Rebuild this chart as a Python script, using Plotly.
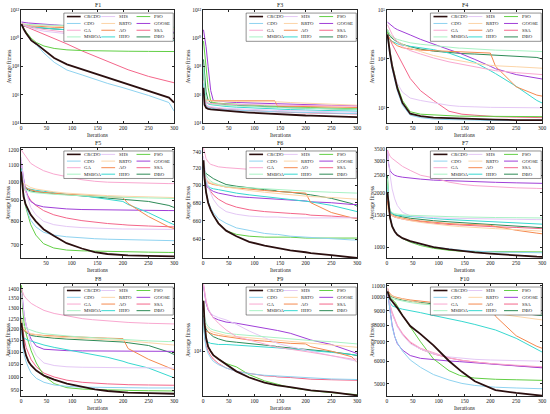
import plotly.graph_objects as go

ITER = [1, 3, 6, 10, 15, 20, 30, 45, 65, 90, 120, 140, 145, 170, 200, 210, 250, 290, 300]

ALGOS = ["CRCDO", "CDO", "GA", "MSBOA", "SHS", "RRTO", "AO", "HHO", "PSO", "GOOSE", "SSA", "DBO"]
COLORS = {
    "CRCDO": "#2b0f0f", "CDO": "#8fd3f0", "GA": "#f9a8d0", "MSBOA": "#a8f2c4",
    "SHS": "#e4c8f5", "RRTO": "#fcd5a8", "AO": "#f5894f", "HHO": "#38d8d0",
    "PSO": "#62cf45", "GOOSE": "#a03fd8", "SSA": "#f4668a", "DBO": "#2e8b57",
}
LEGEND_COLS = [["CRCDO", "CDO", "GA", "MSBOA"],
               ["SHS", "RRTO", "AO", "HHO"],
               ["PSO", "GOOSE", "SSA", "DBO"]]

# F1, F3, F4, F9 are read as log10(average fitness) off the 10^n axes
F1_LOG = {
    "CRCDO": [11.0, 10.8, 10.6, 10.35, 10.05, 9.85, 9.6, 9.15, 8.6, 8.15, 7.8, 7.55, 7.48, 7.2, 6.85, 6.72, 6.25, 5.8, 5.45],
    "CDO": [11.0, 10.8, 10.6, 10.35, 10.05, 9.83, 9.55, 8.95, 8.3, 7.75, 7.4, 7.15, 7.1, 6.8, 6.5, 6.4, 5.95, 5.45, 4.85],
    "GA": [11.05, 11.0, 10.95, 10.9, 10.85, 10.8, 10.72, 10.62, 10.52, 10.42, 10.32, 10.27, 10.26, 10.2, 10.15, 10.13, 10.08, 10.03, 10.02],
    "MSBOA": [11.02, 11.0, 10.99, 10.98, 10.97, 10.96, 10.95, 10.94, 10.92, 10.9, 10.88, 10.87, 10.86, 10.85, 10.83, 10.83, 10.81, 10.79, 10.78],
    "SHS": [11.0, 10.95, 10.9, 10.85, 10.78, 10.72, 10.62, 10.5, 10.4, 10.32, 10.25, 10.22, 10.21, 10.18, 10.15, 10.14, 10.1, 10.06, 10.05],
    "RRTO": [11.04, 11.02, 11.0, 10.98, 10.95, 10.94, 10.91, 10.88, 10.85, 10.81, 10.78, 10.76, 10.75, 10.73, 10.72, 10.71, 10.69, 10.66, 10.65],
    "AO": [11.0, 10.98, 10.95, 10.93, 10.9, 10.88, 10.85, 10.81, 10.78, 10.75, 10.72, 10.7, 10.69, 10.67, 10.65, 10.4, 10.15, 10.0, 9.98],
    "HHO": [10.95, 10.93, 10.9, 10.88, 10.85, 10.82, 10.78, 10.72, 10.66, 10.6, 10.52, 10.46, 10.45, 10.38, 10.3, 10.28, 10.1, 9.9, 9.85],
    "PSO": [11.0, 10.85, 10.65, 10.45, 10.2, 10.0, 9.7, 9.45, 9.28, 9.18, 9.13, 9.11, 9.1, 9.09, 9.08, 9.08, 9.07, 9.06, 9.06],
    "GOOSE": [11.15, 11.13, 11.11, 11.1, 11.08, 11.06, 11.03, 11.0, 10.95, 10.9, 10.82, 10.77, 10.76, 10.7, 10.63, 10.6, 10.52, 10.44, 10.42],
    "SSA": [10.95, 10.92, 10.87, 10.8, 10.72, 10.62, 10.47, 10.25, 9.95, 9.6, 9.1, 8.8, 8.72, 8.35, 7.9, 7.77, 7.3, 6.95, 6.85],
    "DBO": [10.9, 10.88, 10.85, 10.82, 10.79, 10.77, 10.74, 10.7, 10.65, 10.6, 10.56, 10.53, 10.52, 10.49, 10.46, 10.45, 10.41, 10.38, 10.37],
}

F3_LOG = {
    "CRCDO": [6.5, 5.3, 5.08, 5.0, 4.96, 4.94, 4.9, 4.85, 4.8, 4.74, 4.67, 4.63, 4.62, 4.58, 4.53, 4.52, 4.48, 4.43, 4.42],
    "CDO": [6.8, 5.5, 5.2, 5.1, 5.05, 5.02, 4.98, 4.94, 4.9, 4.86, 4.82, 4.8, 4.79, 4.77, 4.74, 4.73, 4.7, 4.67, 4.66],
    "GA": [6.5, 5.7, 5.45, 5.4, 5.38, 5.37, 5.35, 5.33, 5.31, 5.29, 5.27, 5.26, 5.26, 5.25, 5.24, 5.23, 5.22, 5.21, 5.2],
    "MSBOA": [8.0, 6.5, 5.55, 5.4, 5.35, 5.32, 5.28, 5.24, 5.2, 5.16, 5.12, 5.1, 5.09, 5.07, 5.04, 5.03, 5.0, 4.97, 4.96],
    "SHS": [7.0, 5.8, 5.3, 5.2, 5.15, 5.12, 5.08, 5.04, 5.0, 4.96, 4.92, 4.9, 4.89, 4.87, 4.84, 4.83, 4.8, 4.77, 4.76],
    "RRTO": [6.8, 5.9, 5.62, 5.58, 5.56, 5.55, 5.55, 5.54, 5.54, 5.53, 5.53, 5.52, 5.5, 5.45, 5.4, 5.38, 5.32, 5.27, 5.26],
    "AO": [7.0, 6.0, 5.62, 5.6, 5.59, 5.58, 5.58, 5.58, 5.58, 5.57, 5.57, 5.57, 5.2, 5.18, 5.16, 5.15, 5.12, 5.1, 5.1],
    "HHO": [8.0, 6.5, 5.6, 5.35, 5.3, 5.27, 5.22, 5.17, 5.12, 5.07, 5.02, 4.99, 4.98, 4.95, 4.92, 4.91, 4.88, 4.85, 4.84],
    "PSO": [9.8, 9.0, 8.0, 6.5, 5.55, 5.45, 5.4, 5.36, 5.32, 5.28, 5.22, 5.18, 5.17, 5.14, 5.1, 5.09, 5.05, 5.01, 5.0],
    "GOOSE": [10.6, 10.1, 9.4, 8.0, 6.3, 5.6, 5.55, 5.5, 5.45, 5.42, 5.38, 5.35, 5.35, 5.32, 5.3, 5.28, 5.25, 5.23, 5.22],
    "SSA": [7.5, 6.0, 5.3, 5.15, 5.1, 5.07, 5.02, 4.97, 4.92, 4.87, 4.82, 4.79, 4.78, 4.75, 4.72, 4.71, 4.68, 4.65, 4.64],
    "DBO": [8.5, 7.5, 6.2, 5.6, 5.45, 5.4, 5.35, 5.3, 5.25, 5.2, 5.15, 5.12, 5.11, 5.08, 5.05, 5.04, 5.0, 4.97, 4.96],
}

F4_LOG = {
    "CRCDO": [4.5, 4.3, 4.1, 3.85, 3.6, 3.4, 3.1, 2.88, 2.83, 2.8, 2.79, 2.78, 2.78, 2.77, 2.76, 2.76, 2.75, 2.75, 2.75],
    "CDO": [4.45, 4.25, 4.05, 3.8, 3.55, 3.35, 3.05, 2.85, 2.8, 2.77, 2.76, 2.75, 2.75, 2.75, 2.74, 2.74, 2.74, 2.74, 2.74],
    "GA": [4.7, 4.65, 4.58, 4.5, 4.42, 4.35, 4.25, 4.17, 4.1, 4.02, 3.94, 3.9, 3.89, 3.84, 3.78, 3.76, 3.72, 3.69, 3.68],
    "MSBOA": [4.6, 4.55, 4.5, 4.45, 4.42, 4.4, 4.37, 4.33, 4.3, 4.27, 4.24, 4.22, 4.22, 4.2, 4.19, 4.18, 4.17, 4.15, 4.15],
    "SHS": [4.5, 4.35, 4.15, 3.9, 3.65, 3.5, 3.32, 3.2, 3.15, 3.1, 3.05, 3.03, 3.03, 3.02, 3.01, 3.01, 3.0, 3.0, 3.0],
    "RRTO": [4.6, 4.55, 4.5, 4.45, 4.4, 4.36, 4.3, 4.22, 4.15, 4.07, 4.0, 3.96, 3.95, 3.91, 3.87, 3.86, 3.84, 3.82, 3.81],
    "AO": [4.5, 4.45, 4.4, 4.35, 4.3, 4.27, 4.23, 4.2, 4.18, 4.17, 4.16, 4.15, 4.15, 4.14, 4.12, 3.85, 3.43, 3.26, 3.24],
    "HHO": [4.45, 4.42, 4.39, 4.36, 4.33, 4.31, 4.28, 4.26, 4.23, 4.19, 4.12, 4.05, 4.03, 3.93, 3.76, 3.7, 3.44, 3.15, 3.1],
    "PSO": [4.55, 4.35, 4.15, 3.9, 3.65, 3.45, 3.15, 2.92, 2.87, 2.85, 2.84, 2.83, 2.83, 2.83, 2.82, 2.82, 2.82, 2.82, 2.82],
    "GOOSE": [4.75, 4.73, 4.7, 4.67, 4.63, 4.6, 4.55, 4.49, 4.4, 4.3, 4.19, 4.12, 4.1, 3.99, 3.85, 3.8, 3.68, 3.6, 3.59],
    "SSA": [4.5, 4.45, 4.38, 4.3, 4.2, 4.1, 3.9, 3.6, 3.35, 3.15, 2.93, 2.88, 2.87, 2.85, 2.83, 2.82, 2.81, 2.8, 2.8],
    "DBO": [4.6, 4.52, 4.46, 4.42, 4.38, 4.35, 4.3, 4.25, 4.2, 4.16, 4.13, 4.12, 4.11, 4.1, 4.08, 4.08, 4.06, 4.03, 4.0],
}

F5 = {
    "CRCDO": [1060, 980, 920, 880, 850, 830, 800, 765, 737, 707, 686, 675, 672, 665, 661, 660, 658, 657, 656],
    "CDO": [1070, 1000, 940, 880, 835, 805, 775, 752, 740, 733, 728, 726, 725, 723, 721, 720, 719, 717, 717],
    "GA": [1200, 1190, 1170, 1150, 1130, 1110, 1090, 1065, 1045, 1030, 1012, 1005, 1003, 998, 995, 994, 992, 990, 990],
    "MSBOA": [1000, 980, 965, 955, 948, 944, 940, 936, 932, 928, 924, 922, 921, 918, 916, 915, 913, 911, 910],
    "SHS": [1150, 1080, 1010, 950, 900, 865, 830, 800, 785, 777, 772, 770, 769, 768, 766, 766, 765, 764, 764],
    "RRTO": [1030, 1010, 995, 985, 975, 968, 960, 952, 945, 938, 932, 929, 928, 925, 922, 921, 918, 916, 915],
    "AO": [1060, 1010, 985, 970, 960, 955, 948, 942, 937, 932, 928, 925, 924, 920, 915, 885, 822, 775, 768],
    "HHO": [1080, 1020, 985, 970, 962, 958, 953, 948, 940, 932, 925, 918, 916, 908, 895, 880, 840, 795, 785],
    "PSO": [1080, 1000, 930, 870, 820, 785, 740, 705, 688, 680, 677, 676, 675, 674, 673, 673, 672, 671, 671],
    "GOOSE": [1130, 1080, 1020, 960, 915, 895, 878, 868, 862, 858, 855, 854, 854, 853, 852, 852, 851, 850, 850],
    "SSA": [1050, 1010, 975, 945, 920, 900, 875, 850, 830, 815, 803, 797, 796, 790, 785, 783, 779, 776, 775],
    "DBO": [1080, 1020, 985, 965, 955, 950, 945, 940, 935, 930, 925, 920, 918, 912, 905, 902, 895, 875, 865],
}

F6 = {
    "CRCDO": [730, 708, 692, 680, 672, 666, 657, 649, 643, 637, 633, 631, 630, 628, 626, 625, 623, 621, 620],
    "CDO": [725, 705, 692, 682, 674, 669, 662, 657, 652, 649, 646, 645, 645, 643, 642, 641, 640, 639, 639],
    "GA": [745, 738, 732, 728, 725, 724, 722, 721, 720, 719, 719, 718, 718, 718, 717, 717, 717, 716, 716],
    "MSBOA": [730, 718, 712, 708, 705, 703, 701, 699, 698, 697, 696, 695, 695, 694, 693, 693, 692, 691, 691],
    "SHS": [735, 720, 708, 698, 690, 684, 676, 670, 667, 665, 664, 664, 664, 663, 663, 663, 663, 663, 663],
    "RRTO": [720, 712, 708, 705, 703, 702, 700, 698, 696, 694, 692, 691, 690, 689, 688, 687, 686, 685, 684],
    "AO": [718, 710, 706, 703, 702, 701, 700, 698, 697, 696, 694, 693, 693, 692, 691, 680, 669, 663, 662],
    "HHO": [725, 712, 704, 699, 697, 696, 695, 693, 691, 689, 687, 686, 685, 684, 682, 681, 677, 672, 670],
    "PSO": [730, 708, 692, 680, 672, 666, 657, 649, 645, 643, 642, 642, 642, 642, 641, 641, 641, 641, 641],
    "GOOSE": [722, 708, 700, 697, 695, 693, 691, 689, 687, 686, 685, 684, 684, 683, 682, 681, 680, 678, 678],
    "SSA": [725, 712, 704, 698, 693, 689, 684, 679, 675, 672, 670, 669, 669, 668, 667, 666, 665, 663, 663],
    "DBO": [725, 718, 714, 712, 710, 708, 705, 701, 699, 697, 695, 694, 693, 692, 690, 689, 685, 679, 676],
}

F7 = {
    "CRCDO": [2000, 1700, 1450, 1300, 1220, 1170, 1120, 1080, 1040, 1000, 970, 955, 950, 935, 920, 915, 900, 885, 883],
    "CDO": [2100, 1750, 1480, 1320, 1230, 1175, 1120, 1075, 1035, 1000, 975, 962, 960, 950, 940, 938, 935, 932, 930],
    "GA": [3450, 3300, 3180, 3100, 3030, 2950, 2800, 2660, 2500, 2420, 2290, 2240, 2225, 2190, 2160, 2150, 2130, 2115, 2110],
    "MSBOA": [2400, 1800, 1600, 1550, 1530, 1520, 1510, 1500, 1490, 1480, 1475, 1470, 1470, 1465, 1460, 1458, 1455, 1450, 1450],
    "SHS": [3400, 2900, 2500, 2100, 1850, 1700, 1560, 1490, 1470, 1455, 1445, 1440, 1440, 1435, 1430, 1430, 1425, 1420, 1420],
    "RRTO": [1700, 1580, 1520, 1490, 1470, 1455, 1430, 1400, 1370, 1340, 1315, 1300, 1297, 1285, 1270, 1265, 1250, 1230, 1225],
    "AO": [1800, 1600, 1530, 1500, 1480, 1465, 1445, 1420, 1395, 1370, 1350, 1340, 1338, 1330, 1320, 1300, 1240, 1195, 1185],
    "HHO": [2200, 1700, 1560, 1530, 1510, 1500, 1490, 1475, 1460, 1440, 1420, 1410, 1408, 1395, 1380, 1375, 1360, 1345, 1340],
    "PSO": [2300, 1750, 1450, 1300, 1220, 1170, 1115, 1065, 1020, 985, 960, 950, 948, 945, 942, 942, 941, 940, 940],
    "GOOSE": [3450, 2900, 2650, 2560, 2500, 2470, 2440, 2410, 2380, 2350, 2330, 2320, 2320, 2300, 2290, 2285, 2270, 2260, 2255],
    "SSA": [1900, 1650, 1530, 1490, 1465, 1450, 1430, 1405, 1380, 1355, 1335, 1325, 1322, 1310, 1300, 1295, 1285, 1270, 1265],
    "DBO": [2500, 1800, 1580, 1530, 1505, 1490, 1470, 1445, 1420, 1400, 1380, 1368, 1365, 1350, 1335, 1325, 1305, 1285, 1280],
}

F8 = {
    "CRCDO": [1230, 1170, 1120, 1085, 1060, 1045, 1025, 1005, 990, 975, 962, 955, 954, 948, 943, 942, 940, 938, 938],
    "CDO": [1200, 1130, 1090, 1060, 1035, 1015, 995, 980, 970, 965, 962, 961, 961, 960, 960, 960, 959, 959, 959],
    "GA": [1400, 1380, 1365, 1350, 1335, 1325, 1310, 1290, 1275, 1262, 1250, 1245, 1244, 1238, 1233, 1232, 1228, 1225, 1225],
    "MSBOA": [1260, 1230, 1215, 1205, 1200, 1195, 1188, 1180, 1175, 1170, 1165, 1162, 1161, 1157, 1153, 1152, 1148, 1145, 1145],
    "SHS": [1380, 1320, 1270, 1220, 1170, 1130, 1085, 1055, 1045, 1040, 1038, 1037, 1037, 1036, 1036, 1036, 1036, 1035, 1035],
    "RRTO": [1250, 1215, 1200, 1192, 1185, 1180, 1175, 1170, 1165, 1162, 1160, 1158, 1157, 1155, 1152, 1148, 1140, 1132, 1130],
    "AO": [1250, 1210, 1195, 1188, 1182, 1178, 1175, 1172, 1170, 1167, 1165, 1163, 1162, 1160, 1158, 1115, 1070, 1035, 1028],
    "HHO": [1190, 1170, 1160, 1155, 1150, 1147, 1140, 1130, 1120, 1110, 1098, 1090, 1088, 1078, 1062, 1055, 1035, 1005, 997],
    "PSO": [1420, 1300, 1230, 1180, 1140, 1105, 1055, 1005, 975, 960, 955, 953, 953, 952, 951, 950, 949, 948, 948],
    "GOOSE": [1400, 1330, 1270, 1220, 1180, 1155, 1125, 1112, 1108, 1106, 1105, 1105, 1105, 1104, 1104, 1104, 1103, 1103, 1103],
    "SSA": [1250, 1200, 1160, 1120, 1090, 1068, 1040, 1015, 1000, 988, 980, 977, 976, 974, 972, 971, 970, 969, 969],
    "DBO": [1240, 1210, 1195, 1185, 1178, 1172, 1168, 1164, 1160, 1156, 1153, 1151, 1150, 1147, 1143, 1140, 1128, 1100, 1090],
}

F9_LOG = {
    "CRCDO": [4.45, 4.25, 4.12, 4.04, 4.0, 3.965, 3.93, 3.88, 3.82, 3.765, 3.72, 3.7, 3.695, 3.68, 3.655, 3.65, 3.635, 3.61, 3.605],
    "CDO": [4.3, 4.12, 4.03, 3.98, 3.94, 3.91, 3.88, 3.85, 3.82, 3.8, 3.785, 3.78, 3.775, 3.77, 3.76, 3.757, 3.752, 3.748, 3.747],
    "GA": [4.6, 4.52, 4.45, 4.38, 4.33, 4.3, 4.25, 4.19, 4.13, 4.1, 4.06, 4.04, 4.035, 4.02, 4.0, 3.99, 3.96, 3.93, 3.93],
    "MSBOA": [4.35, 4.3, 4.25, 4.22, 4.2, 4.19, 4.18, 4.16, 4.15, 4.14, 4.13, 4.12, 4.12, 4.11, 4.1, 4.095, 4.085, 4.07, 4.065],
    "SHS": [4.6, 4.52, 4.45, 4.38, 4.34, 4.32, 4.3, 4.28, 4.24, 4.18, 4.12, 4.08, 4.07, 4.04, 4.01, 4.0, 3.96, 3.92, 3.91],
    "RRTO": [4.3, 4.25, 4.22, 4.2, 4.18, 4.17, 4.16, 4.14, 4.13, 4.12, 4.11, 4.1, 4.1, 4.09, 4.08, 4.075, 4.06, 4.04, 4.035],
    "AO": [4.25, 4.2, 4.18, 4.17, 4.16, 4.15, 4.14, 4.13, 4.11, 4.1, 4.09, 4.08, 4.08, 4.07, 4.065, 4.04, 4.0, 3.95, 3.9],
    "HHO": [4.25, 4.15, 4.1, 4.08, 4.07, 4.065, 4.06, 4.06, 4.055, 4.05, 4.04, 4.035, 4.03, 4.02, 4.01, 4.005, 3.99, 3.97, 3.965],
    "PSO": [4.45, 4.25, 4.12, 4.04, 4.0, 3.97, 3.93, 3.89, 3.86, 3.79, 3.735, 3.71, 3.705, 3.675, 3.655, 3.648, 3.63, 3.615, 3.612],
    "GOOSE": [4.58, 4.5, 4.43, 4.37, 4.33, 4.3, 4.28, 4.26, 4.25, 4.23, 4.21, 4.19, 4.185, 4.16, 4.12, 4.1, 4.06, 4.0, 3.98],
    "SSA": [4.3, 4.15, 4.05, 4.0, 3.96, 3.93, 3.89, 3.85, 3.82, 3.8, 3.78, 3.775, 3.77, 3.765, 3.755, 3.75, 3.745, 3.74, 3.74],
    "DBO": [4.32, 4.25, 4.2, 4.17, 4.15, 4.13, 4.11, 4.09, 4.08, 4.07, 4.055, 4.045, 4.04, 4.03, 4.02, 4.01, 3.995, 3.97, 3.96],
}

F10 = {
    "CRCDO": [10500, 10200, 9900, 9700, 9450, 9200, 8650, 7950, 7450, 6800, 6000, 5600, 5500, 5100, 4830, 4750, 4640, 4560, 4540],
    "CDO": [10500, 9900, 8700, 7900, 7300, 6950, 6500, 6050, 5700, 5380, 5150, 5030, 5010, 4930, 4870, 4860, 4830, 4810, 4800],
    "GA": [10500, 9900, 9400, 8900, 8400, 8000, 7500, 7000, 6650, 6400, 6150, 6050, 6030, 5950, 5880, 5860, 5800, 5740, 5730],
    "MSBOA": [10500, 10200, 10000, 9900, 9850, 9800, 9700, 9600, 9500, 9400, 9300, 9250, 9230, 9150, 9050, 9000, 8900, 8800, 8780],
    "SHS": [10800, 10000, 9400, 8800, 8300, 7900, 7400, 6900, 6600, 6350, 6200, 6150, 6130, 6080, 6050, 6040, 6020, 6000, 6000],
    "RRTO": [10700, 10400, 10200, 10100, 10000, 9950, 9850, 9700, 9550, 9400, 9250, 9150, 9120, 9000, 8850, 8800, 8600, 8400, 8350],
    "AO": [10800, 10500, 10300, 10150, 10050, 9980, 9900, 9800, 9700, 9600, 9500, 9450, 9440, 9400, 9350, 8600, 7350, 6750, 6650],
    "HHO": [10500, 10000, 9600, 9350, 9250, 9200, 9100, 9000, 8850, 8650, 8450, 8300, 8250, 8050, 7800, 7700, 7200, 6600, 6450],
    "PSO": [10700, 10400, 10100, 9850, 9650, 9350, 8650, 7900, 7000, 6100, 5550, 5350, 5320, 5230, 5190, 5180, 5160, 5140, 5135],
    "GOOSE": [10500, 9800, 8900, 8000, 7300, 6900, 6550, 6270, 6130, 6060, 6000, 5970, 5960, 5900, 5840, 5820, 5760, 5690, 5680],
    "SSA": [10400, 9800, 9300, 8800, 8300, 7950, 7450, 6950, 6600, 6350, 6150, 6050, 6030, 5950, 5870, 5850, 5780, 5720, 5700],
    "DBO": [10600, 10400, 10200, 10050, 9950, 9900, 9800, 9700, 9600, 9500, 9400, 9330, 9310, 9200, 9050, 9000, 8850, 8680, 8650],
}

SUP = str.maketrans("0123456789", "⁰¹²³⁴⁵⁶⁷⁸⁹")
POW4_12 = [4, 6, 8, 10, 12]
PANELS = [
    # title, data, values are log10, y range (log10), y tick values, tick exponents (None = plain numbers)
    ("F1", F1_LOG, True, [4, 12], [10.0 ** p for p in POW4_12], POW4_12),
    ("F3", F3_LOG, True, [4, 12], [10.0 ** p for p in POW4_12], POW4_12),
    ("F4", F4_LOG, True, [2.69, 5.0], [1e3, 1e4, 1e5], [3, 4, 5]),
    ("F5", F5, False, [2.813, 3.083], [700, 800, 900, 1000, 1100, 1200], None),
    ("F6", F6, False, [2.7924, 2.8722], [620, 640, 660, 680, 700, 720, 740], None),
    ("F7", F7, False, [2.9395, 3.549], [1000, 1500, 2000, 2500, 3000, 3500], None),
    ("F8", F8, False, [2.9685, 3.1544], [950, 1000, 1050, 1100, 1150, 1200, 1250, 1300, 1350, 1400], None),
    ("F9", F9_LOG, True, [3.6, 4.6], [1e4], [4]),
    ("F10", F10, False, [3.656, 4.047], [5000, 6000, 7000, 8000, 9000, 10000, 11000], None),
]

XDOM = [[0.0382, 0.3164], [0.3691, 0.6491], [0.7036, 0.9855]]
YDOM = [[0.7029, 0.9758], [0.3768, 0.6425], [0.0435, 0.3140]]
YTITLE_SHIFT = [-13, -15, -15]

FONT = "Liberation Serif"
AXC = "#262626"
TXT = "#1a1a1a"

fig = go.Figure()
layout = dict(template="none", width=550, height=414, margin=dict(l=0, r=0, t=0, b=0),
              paper_bgcolor="white", plot_bgcolor="white", showlegend=False,
              font=dict(family=FONT, size=5.5, color=TXT))
shapes, annotations = [], []

LEG_X = [0.30, 0.525, 0.755]
LEG_LEN = 0.09
LEG_Y = [0.942, 0.881, 0.821, 0.762]

for k, (title, data, is_log, yrange, yticks, pows) in enumerate(PANELS):
    r, c = divmod(k, 3)
    s = "" if k == 0 else str(k + 1)
    for name in reversed(ALGOS):
        vals = data[name]
        y = [10 ** v for v in vals] if is_log else vals
        fig.add_trace(go.Scatter(
            x=ITER, y=y, mode="lines", name=name, xaxis="x" + s, yaxis="y" + s,
            line=dict(color=COLORS[name], width=1.8 if name == "CRCDO" else 1.0),
        ))

    common = dict(showline=True, linecolor=AXC, linewidth=0.6, mirror="ticks",
                  ticks="inside", ticklen=2, tickwidth=0.5, tickcolor=AXC,
                  showgrid=False, zeroline=False,
                  tickfont=dict(size=5.5, family=FONT, color=TXT))
    xt = [50, 100, 150, 200, 250, 300] if title == "F5" else [0, 50, 100, 150, 200, 250, 300]
    yt_text = ["10" + str(p).translate(SUP) for p in pows] if pows else [str(int(t)) for t in yticks]
    layout["xaxis" + s] = dict(common, domain=XDOM[c], anchor="y" + s,
                               range=[1 if title == "F5" else 0, 300],
                               tickvals=xt, ticktext=[str(t) for t in xt])
    layout["yaxis" + s] = dict(common, domain=YDOM[r], anchor="x" + s, type="log",
                               range=yrange, tickvals=yticks, ticktext=yt_text)

    xd, yd = XDOM[c], YDOM[r]
    annotations.append(dict(text=title, xref="paper", yref="paper", x=(xd[0] + xd[1]) / 2,
                            y=yd[1], xanchor="center", yanchor="bottom", showarrow=False,
                            font=dict(size=6, family=FONT, color=TXT)))
    annotations.append(dict(text="Iterations", xref="paper", yref="paper", x=(xd[0] + xd[1]) / 2,
                            y=yd[0], yshift=-12, xanchor="center", yanchor="middle", showarrow=False,
                            font=dict(size=5.5, family=FONT, color=TXT)))
    annotations.append(dict(text="Average fitness", xref="paper", yref="paper", x=xd[0],
                            y=(yd[0] + yd[1]) / 2, xshift=YTITLE_SHIFT[c], textangle=-90,
                            xanchor="center", yanchor="middle", showarrow=False,
                            font=dict(size=5.5, family=FONT, color=TXT)))

    # legend box in the top right corner of each panel
    xref, yref = "x%s domain" % s, "y%s domain" % s
    shapes.append(dict(type="rect", xref=xref, yref=yref, x0=0.28, x1=0.995, y0=0.723, y1=0.973,
                       fillcolor="white", line=dict(color=AXC, width=0.5), layer="above"))
    for ci, col in enumerate(LEGEND_COLS):
        for ri, name in enumerate(col):
            shapes.append(dict(type="line", xref=xref, yref=yref,
                               x0=LEG_X[ci], x1=LEG_X[ci] + LEG_LEN, y0=LEG_Y[ri], y1=LEG_Y[ri],
                               line=dict(color=COLORS[name], width=1.6 if name == "CRCDO" else 1.0),
                               layer="above"))
            annotations.append(dict(text=name, xref=xref, yref=yref, x=LEG_X[ci] + LEG_LEN + 0.01,
                                    y=LEG_Y[ri], xanchor="left", yanchor="middle", showarrow=False,
                                    font=dict(size=4.8, family=FONT, color=TXT)))

layout["shapes"] = shapes
layout["annotations"] = annotations
fig.update_layout(**layout)
# the page body has a default 8px margin; drop it so the figure fills the window
fig.write_html("out.html", config={"displayModeBar": False},
               post_script="document.body.style.margin='0';")
